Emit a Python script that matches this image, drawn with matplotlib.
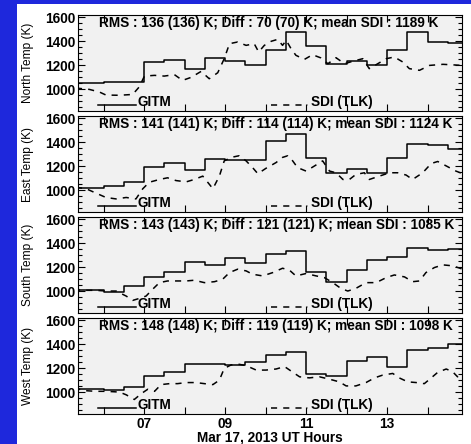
import matplotlib.pyplot as plt
from matplotlib.ticker import MultipleLocator, FixedLocator
from matplotlib.patches import Rectangle

plt.rcParams['font.family'] = ['Liberation Sans', 'DejaVu Sans']

# GITM 30-min step starts (UT hours) plus the right end of the last step
gitm_hours = [5.37, 6.0, 6.5, 7.0, 7.5, 8.0, 8.5, 9.0, 9.5, 10.0,
              10.5, 11.0, 11.5, 12.0, 12.5, 13.0, 13.5, 14.0, 14.5, 14.85]

north_gitm = [1050, 1058, 1058, 1225, 1245, 1170, 1255, 1230, 1203, 1322,
              1475, 1356, 1206, 1233, 1197, 1322, 1475, 1392, 1386]
east_gitm = [1020, 1031, 1065, 1195, 1224, 1167, 1258, 1249, 1249, 1405,
             1470, 1263, 1144, 1178, 1144, 1266, 1385, 1379, 1342]
south_gitm = [1006, 994, 1042, 1120, 1162, 1246, 1218, 1272, 1232, 1308,
              1336, 1162, 1076, 1179, 1258, 1280, 1356, 1344, 1350]
west_gitm = [1023, 1014, 1042, 1135, 1169, 1231, 1231, 1226, 1248, 1305,
             1333, 1149, 1135, 1262, 1288, 1212, 1347, 1367, 1400]

# SDI (TLK) observations
north_sdi_hours = [5.32, 5.65, 5.90, 6.06, 6.39, 6.72, 6.88, 7.01, 7.26, 7.50,
                   7.75, 7.95, 8.16, 8.41, 8.61, 8.82, 8.98, 9.11, 9.31, 9.52,
                   9.72, 9.83, 9.97, 10.14, 10.30, 10.42, 10.51, 10.63, 10.75, 10.96,
                   11.16, 11.37, 11.54, 11.74, 11.95, 12.15, 12.40, 12.56, 12.73, 12.98,
                   13.18, 13.39, 13.55, 13.80, 14.05, 14.38, 14.87]
north_sdi = [1008, 997, 975, 950, 948, 955, 1017, 1108, 1114, 1108,
             1120, 1072, 1097, 1147, 1086, 1136, 1253, 1378, 1392, 1364,
             1378, 1309, 1364, 1398, 1414, 1364, 1406, 1336, 1281, 1247,
             1286, 1259, 1211, 1261, 1211, 1231, 1253, 1170, 1203, 1253,
             1267, 1225, 1170, 1156, 1197, 1206, 1197]

east_sdi_hours = [5.32, 5.57, 5.81, 6.06, 6.31, 6.56, 6.80, 6.97, 7.13, 7.38,
                  7.58, 7.79, 8.04, 8.24, 8.45, 8.70, 8.86, 8.98, 9.15, 9.35,
                  9.52, 9.68, 9.81, 10.01, 10.26, 10.42, 10.55, 10.67, 10.79, 11.00,
                  11.21, 11.41, 11.58, 11.74, 11.91, 12.07, 12.23, 12.44, 12.56, 12.81,
                  13.06, 13.26, 13.47, 13.63, 13.88, 14.09, 14.25, 14.46, 14.70, 14.87]
east_sdi = [1023, 1011, 975, 938, 926, 938, 926, 1011, 1065, 1088,
            1102, 1079, 1068, 1088, 1116, 1011, 1116, 1243, 1272, 1286,
            1243, 1187, 1136, 1181, 1229, 1272, 1286, 1243, 1187, 1158,
            1201, 1243, 1158, 1144, 1088, 1088, 1130, 1144, 1088, 1116,
            1144, 1144, 1125, 1088, 1144, 1221, 1238, 1201, 1158, 1136]

south_sdi_hours = [5.32, 5.40, 5.57, 5.81, 6.06, 6.31, 6.56, 6.72, 6.88, 7.05,
                   7.21, 7.38, 7.58, 7.79, 8.04, 8.24, 8.49, 8.74, 8.94, 9.11,
                   9.31, 9.52, 9.68, 9.93, 10.18, 10.42, 10.59, 10.75, 11.00, 11.25,
                   11.45, 11.66, 11.86, 12.03, 12.23, 12.48, 12.73, 12.98, 13.18, 13.43,
                   13.63, 13.80, 13.96, 14.17, 14.38, 14.62, 14.87]
south_sdi = [1042, 1008, 1006, 1006, 1000, 1000, 958, 922, 938, 958,
             1014, 1070, 1084, 1084, 1084, 1090, 1070, 1078, 1098, 1154,
             1182, 1168, 1140, 1126, 1154, 1190, 1174, 1126, 1146, 1126,
             1112, 1070, 1022, 1000, 1022, 1070, 1070, 1112, 1134, 1118,
             1078, 1084, 1154, 1196, 1218, 1210, 1182]

west_sdi_hours = [5.32, 5.40, 5.57, 5.81, 6.06, 6.39, 6.56, 6.76, 6.93, 7.09,
                  7.26, 7.42, 7.63, 7.83, 8.04, 8.28, 8.49, 8.70, 8.86, 8.98,
                  9.15, 9.35, 9.52, 9.77, 10.01, 10.26, 10.47, 10.63, 10.84, 11.08,
                  11.33, 11.58, 11.82, 11.99, 12.23, 12.48, 12.69, 12.89, 13.14, 13.30,
                  13.51, 13.72, 13.92, 14.09, 14.25, 14.46, 14.62, 14.74, 14.87]
west_sdi = [1056, 1023, 1011, 1006, 1006, 1000, 977, 938, 986, 1023,
            1006, 1062, 1070, 1070, 1079, 1079, 1070, 1062, 1099, 1197,
            1226, 1231, 1220, 1183, 1183, 1192, 1212, 1175, 1127, 1118,
            1127, 1107, 1085, 1051, 1051, 1079, 1118, 1141, 1155, 1118,
            1085, 1079, 1070, 1118, 1164, 1192, 1169, 1127, 1169]

directions = ['North', 'East', 'South', 'West']
rms = [136, 141, 143, 148]
diff = [70, 114, 121, 119]
mean_sdi = [1189, 1124, 1085, 1098]

gitm_all = [north_gitm, east_gitm, south_gitm, west_gitm]
sdi_hours_all = [north_sdi_hours, east_sdi_hours, south_sdi_hours, west_sdi_hours]
sdi_all = [north_sdi, east_sdi, south_sdi, west_sdi]

W, H = 471, 444
fig = plt.figure(figsize=(W / 100, H / 100), dpi=100, facecolor='white')
# blue slide border on the left and top
blue = '#1e28dc'
fig.patches.append(Rectangle((0, 0), 17 / W, 1, transform=fig.transFigure,
                             facecolor=blue, edgecolor='none', zorder=-10))
fig.patches.append(Rectangle((0, 1 - 4 / H), 1, 4 / H, transform=fig.transFigure,
                             facecolor=blue, edgecolor='none', zorder=-10))

left, width = 78 / W, 384 / W
tops = [15, 116, 217, 318]
ph = 96
fs = 9.8

for i in range(4):
    ax = fig.add_axes([left, 1 - (tops[i] + ph) / H, width, ph / H])
    ax.set_facecolor('#f1f1f1')
    g = gitm_all[i]
    ax.step(gitm_hours, g + [g[-1]], where='post', color='black', lw=1.1)
    ax.plot(sdi_hours_all[i], sdi_all[i], color='black', lw=1.1,
            linestyle=(0, (4, 4)))
    ax.set_xlim(5.37, 14.85)
    ax.set_ylim(817, 1617)

    ax.yaxis.set_major_locator(FixedLocator([1000, 1200, 1400, 1600]))
    ax.yaxis.set_minor_locator(MultipleLocator(50))
    ax.xaxis.set_major_locator(FixedLocator([7, 9, 11, 13]))
    ax.xaxis.set_minor_locator(FixedLocator([6, 8, 10, 12, 14]))
    ax.tick_params(which='both', direction='in', top=True, right=True,
                   labelsize=fs, width=0.8, pad=2)
    ax.tick_params(which='major', length=5)
    ax.tick_params(which='minor', length=3)
    ax.tick_params(axis='x', which='minor', length=5)
    ax.set_yticklabels(['1000', '1200', '1400', '1600'], fontweight='bold')
    ax.set_xticklabels(['07', '09', '11', '13'], fontweight='bold')
    if i < 3:
        ax.tick_params(axis='x', labelbottom=False)
    ax.set_ylabel(f'{directions[i]} Temp (K)', fontsize=8.6)
    ax.yaxis.set_label_coords(-0.115, 0.5)

    ax.text(0.054, 0.92, f'RMS : {rms[i]} ({rms[i]}) K; Diff : {diff[i]} ({diff[i]}) K; '
            f'mean SDI : {mean_sdi[i]} K', transform=ax.transAxes, fontsize=fs,
            fontweight='bold', va='center', ha='left', clip_on=False)
    # legend entries
    ax.plot([0.051, 0.151], [0.065, 0.065], transform=ax.transAxes, color='black', lw=1.1)
    ax.text(0.156, 0.09, 'GITM', transform=ax.transAxes, fontsize=fs,
            fontweight='bold', va='center', ha='left')
    ax.plot([0.503, 0.598], [0.065, 0.065], transform=ax.transAxes, color='black',
            lw=1.1, linestyle=(0, (4, 4)))
    ax.text(0.607, 0.09, 'SDI (TLK)', transform=ax.transAxes, fontsize=fs,
            fontweight='bold', va='center', ha='left')
    if i == 3:
        ax.set_xlabel('Mar 17, 2013 UT Hours', fontsize=fs, fontweight='bold',
                      labelpad=0)

fig.savefig('out.png', dpi=100, facecolor=fig.get_facecolor())
